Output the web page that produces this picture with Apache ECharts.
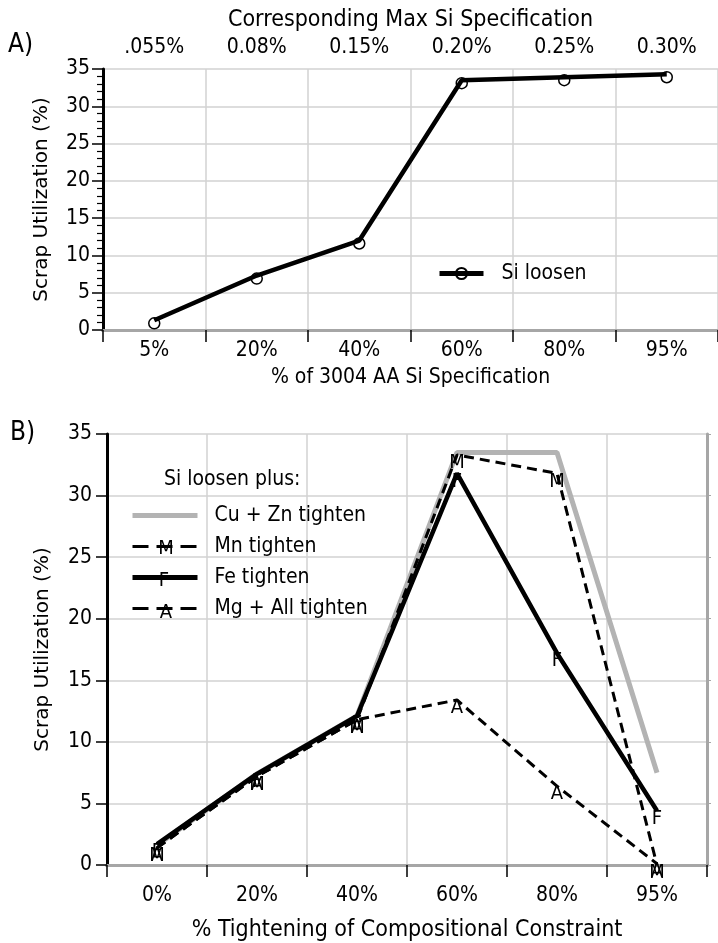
<!DOCTYPE html>
<html>
<head>
<meta charset="utf-8">
<script src="https://cdn.jsdelivr.net/npm/echarts@6/dist/echarts.min.js"></script>
<style>
html,body{margin:0;padding:0;background:#fff;}
#c{width:718px;height:943px;}
</style>
</head>
<body>
<div id="c"></div>
<script>
// ---- Data ----
const catsA = ['5%', '20%', '40%', '60%', '80%', '95%'];
const topLabelsA = ['.055%', '0.08%', '0.15%', '0.20%', '0.25%', '0.30%'];
const siLoosen = [1.3, 7.3, 12.0, 33.5, 33.9, 34.3];

const catsB = ['0%', '20%', '40%', '60%', '80%', '95%'];
const cuZn = [1.6, 7.4, 12.1, 33.5, 33.5, 7.5];
const mnT = [1.4, 7.2, 11.8, 33.3, 31.8, 0];
const feT = [1.7, 7.4, 12.1, 31.8, 17.2, 4.4];
const mgT = [1.4, 7.2, 11.8, 13.4, 6.4, 0.1];

const yTicks = [0, 35, 5];

const F = '"DejaVu Sans Condensed", "DejaVu Sans", sans-serif';
const F2 = '"DejaVu Sans", sans-serif';
const GRID = '#d2d2d2';
const BORDER = '#a6a6a6';

const chart = echarts.init(document.getElementById('c'), null, {renderer: 'canvas'});

function letterLabel(ch) {
  return {show: true, formatter: ch, position: 'inside', offset: [0, 8],
    fontSize: 20, color: '#000', fontFamily: F};
}

const hiddenSym = {color: 'rgba(0,0,0,0)', borderWidth: 0};

const baseCatAxis = {
  type: 'category', boundaryGap: true,
  axisLine: {show: true, onZero: false, lineStyle: {color: '#000', width: 3}},
  axisTick: {show: true, length: 12, lineStyle: {color: '#000', width: 1.5}},
  axisLabel: {fontSize: 21, color: '#000', fontFamily: F},
  splitLine: {show: true, lineStyle: {color: GRID, width: 1.5}},
  nameLocation: 'middle',
  nameTextStyle: {fontSize: 21, color: '#000', fontFamily: F}
};

const baseValAxis = {
  type: 'value', min: yTicks[0], max: yTicks[1], interval: yTicks[2],
  axisLine: {show: true, onZero: false, lineStyle: {color: '#000', width: 3}},
  axisTick: {show: true, length: 11, lineStyle: {color: '#000', width: 1.5}},
  axisLabel: {fontSize: 21, color: '#000', fontFamily: F},
  splitLine: {show: true, lineStyle: {color: GRID, width: 1.5}},
  name: 'Scrap Utilization (%)',
  nameLocation: 'middle',
  nameTextStyle: {fontSize: 20, color: '#000', fontFamily: F2}
};

const option = {
  animation: false,
  backgroundColor: '#fff',
  title: [
    {text: 'A)', left: 8, top: 32, padding: 0, textStyle: {fontSize: 26, fontWeight: 'normal', color: '#000', fontFamily: F}},
    {text: 'B)', left: 10, top: 420, padding: 0, textStyle: {fontSize: 26, fontWeight: 'normal', color: '#000', fontFamily: F}},
    {text: 'Si loosen plus:', left: 164, top: 469, padding: 0, textStyle: {fontSize: 21, fontWeight: 'normal', color: '#000', fontFamily: F}}
  ],
  grid: [
    {left: 103, top: 69, width: 624, height: 261},
    {left: 107, top: 434, width: 600, height: 432}
  ],
  legend: [
    {data: [{name: 'Si loosen', lineStyle: {width: 5}}], left: 437, top: 263, padding: 0, itemWidth: 44, itemHeight: 14,
      lineStyle: {width: 'inherit'},
      textStyle: {fontSize: 21, color: '#000', fontFamily: F, padding: [0, 0, 0, 13]}},
    {data: [
        {name: 'Cu + Zn tighten', lineStyle: {width: 5}},
        {name: 'Mn tighten', lineStyle: {width: 3, type: [16, 8]}},
        {name: 'Fe tighten', lineStyle: {width: 5}},
        {name: 'Mg + All tighten', lineStyle: {width: 3, type: [16, 8]}}
      ],
      orient: 'vertical', left: 130, top: 505, padding: 0, itemWidth: 65, itemHeight: 14, itemGap: 10,
      lineStyle: {width: 'inherit'},
      textStyle: {fontSize: 21, color: '#000', fontFamily: F, padding: [0, 0, 0, 12]}}
  ],
  xAxis: [
    Object.assign({}, baseCatAxis, {gridIndex: 0, position: 'bottom', data: catsA,
      axisLabel: Object.assign({}, baseCatAxis.axisLabel, {margin: 10}),
      name: '% of 3004 AA Si Specification', nameGap: 37}),
    Object.assign({}, baseCatAxis, {gridIndex: 0, position: 'top', data: topLabelsA,
      axisLine: {show: true, lineStyle: {color: BORDER, width: 3}},
      axisTick: {show: false}, splitLine: {show: false},
      axisLabel: Object.assign({}, baseCatAxis.axisLabel, {margin: 11}),
      name: 'Corresponding Max Si Specification', nameGap: 37,
      nameTextStyle: {fontSize: 23, color: '#000', fontFamily: F}}),
    Object.assign({}, baseCatAxis, {gridIndex: 1, position: 'bottom', data: catsB,
      axisLabel: Object.assign({}, baseCatAxis.axisLabel, {margin: 20}),
      name: '% Tightening of Compositional Constraint', nameGap: 54,
      nameTextStyle: {fontSize: 23, color: '#000', fontFamily: F}}),
    Object.assign({}, baseCatAxis, {gridIndex: 1, position: 'top', data: catsB,
      axisLine: {show: true, lineStyle: {color: BORDER, width: 3}},
      axisTick: {show: false}, splitLine: {show: false}, axisLabel: {show: false}})
  ],
  yAxis: [
    Object.assign({}, baseValAxis, {gridIndex: 0, nameGap: 51,
      axisLabel: Object.assign({}, baseValAxis.axisLabel, {margin: 13}),
      minorTick: {show: true, splitNumber: 5, length: 6, lineStyle: {color: '#000', width: 1.2}}}),
    Object.assign({}, baseValAxis, {gridIndex: 1, nameGap: 54,
      axisLabel: Object.assign({}, baseValAxis.axisLabel, {margin: 15})}),
    Object.assign({}, baseValAxis, {gridIndex: 1, position: 'right', name: '',
      axisLine: {show: true, lineStyle: {color: BORDER, width: 3}},
      axisTick: {show: true, length: 4, lineStyle: {color: BORDER, width: 1}},
      axisLabel: {show: false}, splitLine: {show: false}})
  ],
  graphic: [
    {type: 'text', x: 166, y: 549, z: 100, style: {text: 'M', align: 'center', verticalAlign: 'middle', font: '20px ' + F, fill: '#000'}},
    {type: 'text', x: 164, y: 581, z: 100, style: {text: 'F', align: 'center', verticalAlign: 'middle', font: '20px ' + F, fill: '#000'}},
    {type: 'text', x: 166, y: 613, z: 100, style: {text: 'A', align: 'center', verticalAlign: 'middle', font: '20px ' + F, fill: '#000'}}
  ],
  series: [
    {name: 'Si loosen', type: 'line', xAxisIndex: 0, yAxisIndex: 0, data: siLoosen,
      lineStyle: {color: '#000', width: 4.5},
      symbol: 'circle', symbolSize: 11, symbolOffset: [0, 3],
      itemStyle: {color: 'rgba(0,0,0,0)', borderColor: '#000', borderWidth: 1.5}},
    {name: 'Cu + Zn tighten', type: 'line', xAxisIndex: 2, yAxisIndex: 1, data: cuZn,
      lineStyle: {color: '#b3b3b3', width: 5},
      symbol: 'circle', symbolSize: 1, itemStyle: hiddenSym},
    {name: 'Mn tighten', type: 'line', xAxisIndex: 2, yAxisIndex: 1, data: mnT,
      lineStyle: {color: '#000', width: 3, type: [10, 6]},
      symbol: 'circle', symbolSize: 1, itemStyle: hiddenSym,
      label: letterLabel('M')},
    {name: 'Fe tighten', type: 'line', xAxisIndex: 2, yAxisIndex: 1, data: feT,
      lineStyle: {color: '#000', width: 4.5},
      symbol: 'circle', symbolSize: 1, itemStyle: hiddenSym,
      label: letterLabel('F')},
    {name: 'Mg + All tighten', type: 'line', xAxisIndex: 2, yAxisIndex: 1, data: mgT,
      lineStyle: {color: '#000', width: 3, type: [10, 6]},
      symbol: 'circle', symbolSize: 1, itemStyle: hiddenSym,
      label: letterLabel('A')}
  ]
};
chart.setOption(option);
</script>
</body>
</html>
